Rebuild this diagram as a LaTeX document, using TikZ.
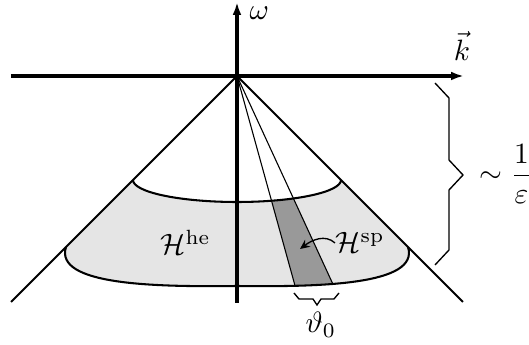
\documentclass[tikz,border=0pt]{standalone}
\usepackage{amsmath}
\usetikzlibrary{arrows.meta}
\begin{document}
\begin{tikzpicture}[x=0.34pt,y=-0.34pt,
  axis/.style={line width=1.1pt,-{Latex[length=4.4pt,width=3pt]}},
  cone/.style={line width=0.7pt},
  ray/.style={line width=0.37pt},
  border/.style={line width=0.7pt},
  bracepath/.style={line width=0.46pt},
  pointer/.style={line width=0.46pt,-{Stealth[length=3.3pt,width=3pt]}},
  lightfill/.style={fill=gray!20},
  darkfill/.style={fill=gray!80}]
\useasboundingbox (0,0) rectangle (529,345);
% key points
\coordinate (O) at (237,76);
\coordinate (xl) at (11,76);
\coordinate (xr) at (464,76);
\coordinate (yb) at (237,303);
\coordinate (yt) at (237,2);
\coordinate (cl) at (11,302);
\coordinate (cr) at (463,302);
\coordinate (ul) at (133,180);
\coordinate (ur) at (341,180);
\coordinate (um) at (237,202);
\coordinate (ll) at (66,247);
\coordinate (lr) at (408,247);
\coordinate (lm) at (237,286);
\coordinate (r1) at (295,285.6);
\coordinate (r2) at (333,284.3);
\coordinate (r1f) at (312.4,347.7);
\coordinate (r2f) at (361.8,346.8);
% light region
\path[lightfill] (ul) .. controls (133,192.1) and (179.6,202) .. (um)
  .. controls (294.4,202) and (341,192.1) .. (ur) -- (lr)
  .. controls (420,285) and (320,287) .. (lm)
  .. controls (154,287) and (54,285) .. (ll) -- cycle;
% dark strip
\begin{scope}
\clip (ul) .. controls (133,192.1) and (179.6,202) .. (um)
  .. controls (294.4,202) and (341,192.1) .. (ur) -- (lr)
  .. controls (420,285) and (320,287) .. (lm)
  .. controls (154,287) and (54,285) .. (ll) -- cycle;
\path[darkfill] (O) -- (r1f) -- (r2f) -- cycle;
\end{scope}
% rays
\draw[ray] (O) -- (r1);
\draw[ray] (O) -- (r2);
% borders
\draw[border] (ul) .. controls (133,192.1) and (179.6,202) .. (um)
  .. controls (294.4,202) and (341,192.1) .. (ur);
\draw[border] (lr) .. controls (420,285) and (320,287) .. (lm)
  .. controls (154,287) and (54,285) .. (ll);
% cone
\draw[cone] (O) -- (cl);
\draw[cone] (O) -- (cr);
% axes
\draw[axis] (xl) -- (xr);
\draw[axis] (yb) -- (yt);
% labels
\node[anchor=west,inner sep=1pt] (w) at (246,13) {$\omega$};
\node[anchor=south,inner sep=1pt] (k) at (462,64) {$\vec{k}$};
\node[anchor=base west,inner sep=0pt] (he) at (160,255) {$\mathcal{H}^{\mathrm{he}}$};
\node[anchor=base west,inner sep=0pt] (sp) at (335,253) {$\mathcal{H}^{\mathrm{sp}}$};
\coordinate (spt) at (300,249);
\draw[pointer] (sp.west) .. controls +(-10,-9) and +(12,-9) .. (spt);
% bottom brace
\draw[bracepath] (294,293) -- (299,299) -- (313,299) -- (317,305) -- (321,299) -- (334,299) -- (339,293);
\node[anchor=base west,inner sep=0pt] (th) at (305,333) {$\vartheta_0$};
% right brace
\draw[bracepath] (435,83) -- (449,98) -- (449,160) -- (463,175) -- (449,190) -- (449,250) -- (435,265);
\node[anchor=base west,inner sep=0pt] (eps) at (479,183) {$\sim \dfrac{1}{\varepsilon}$};
\end{tikzpicture}
\end{document}
